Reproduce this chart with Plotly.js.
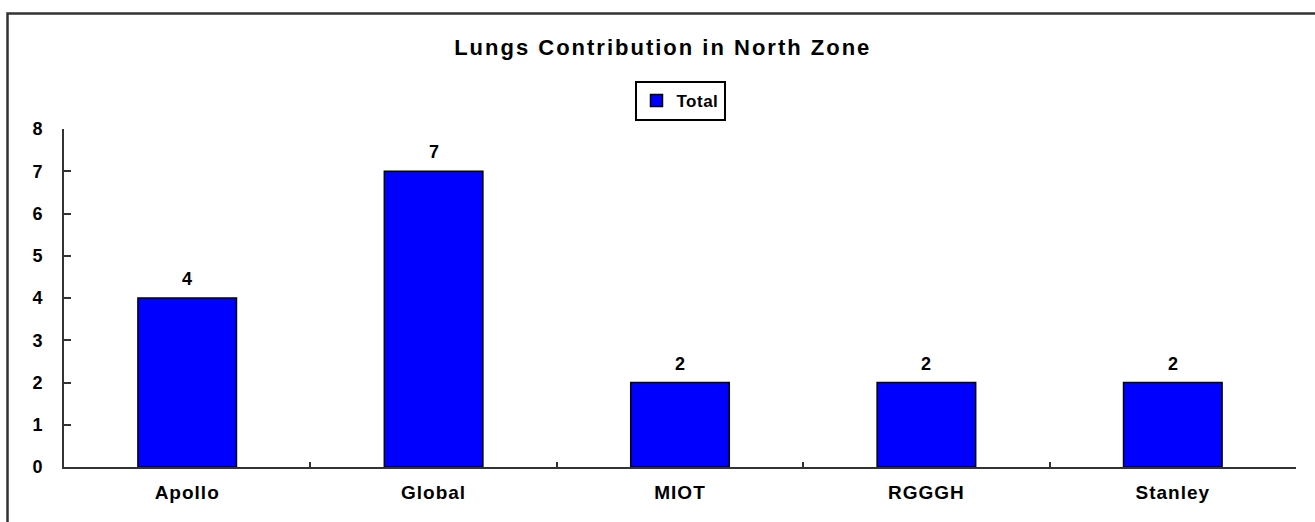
<!DOCTYPE html>
<html>
<head>
<meta charset="utf-8">
<script src="https://cdn.plot.ly/plotly-3.0.1.min.js"></script>
<style>
  html, body { margin: 0; padding: 0; background: #fff; }
  #chart { width: 1315px; height: 522px; }
  .gtitle { letter-spacing: 2px; }
  .xtick text { letter-spacing: 1px; }
  .legendtext { letter-spacing: 0.5px; }
</style>
</head>
<body>
<div id="chart"></div>
<script>
const categories = ["Apollo", "Global", "MIOT", "RGGGH", "Stanley"];
const totals = [4, 7, 2, 2, 2];
const seriesName = "Total";
const chartTitle = "Lungs Contribution in North Zone";
const yTicks = [0, 1, 2, 3, 4, 5, 6, 7, 8];

const FONT = "Liberation Sans, Arial, sans-serif";

const trace = {
  type: "bar",
  name: seriesName,
  x: categories,
  y: totals,
  width: 0.4,
  marker: { color: "#0000FF", line: { color: "#000000", width: 1.5 } },
  hoverinfo: "x+y",
  showlegend: true
};

const annotations = categories.map((c, i) => ({
  x: c, y: totals[i], xref: "x", yref: "y",
  text: "<b>" + String(totals[i]) + "</b>",
  showarrow: false,
  yanchor: "middle",
  yshift: 19,
  font: { family: FONT, size: 18, color: "#000" }
}));

const layout = {
  width: 1315, height: 522,
  margin: { l: 64, r: 19, t: 129, b: 55 },
  paper_bgcolor: "#ffffff",
  plot_bgcolor: "#ffffff",
  font: { family: FONT, color: "#000" },
  title: {
    text: "<b>" + chartTitle + "</b>",
    font: { family: FONT, size: 22, color: "#000" },
    xref: "container", x: 0.504, xanchor: "center",
    yref: "container", y: 1 - 47 / 522, yanchor: "middle"
  },
  showlegend: true,
  legend: {
    x: 0.5, xanchor: "center",
    y: 1.142, yanchor: "top",
    bordercolor: "#000", borderwidth: 2,
    bgcolor: "#fff",
    font: { family: FONT, size: 17, color: "#000", weight: "bold" },
    itemwidth: 30
  },
  xaxis: {
    type: "category",
    showline: true, linecolor: "#333", linewidth: 2,
    ticks: "inside", ticklen: 5, tickwidth: 2, tickcolor: "#333",
    tickson: "boundaries",
    showgrid: false, zeroline: false,
    tickfont: { family: FONT, size: 19, color: "#000", weight: "bold" },
    ticklabelstandoff: 7
  },
  yaxis: {
    range: [0, 8],
    tickvals: yTicks,
    ticktext: yTicks.map(String),
    showline: true, linecolor: "#333", linewidth: 2,
    ticks: "inside", ticklen: 7, tickwidth: 2, tickcolor: "#333",
    showgrid: false, zeroline: false,
    tickfont: { family: FONT, size: 18, color: "#000", weight: "bold" },
    ticklabelstandoff: 16
  },
  annotations: annotations,
  shapes: [{
    type: "rect", xref: "paper", yref: "paper",
    x0: (7.5 - 64) / 1232, x1: (1330 - 64) / 1232,
    y0: (467 - 540) / 338, y1: (467 - 13.5) / 338,
    line: { color: "#333", width: 2.5 },
    fillcolor: "rgba(0,0,0,0)",
    layer: "below"
  }],
  bargap: 0.6
};

Plotly.newPlot("chart", [trace], layout, { displayModeBar: false });
</script>
</body>
</html>
